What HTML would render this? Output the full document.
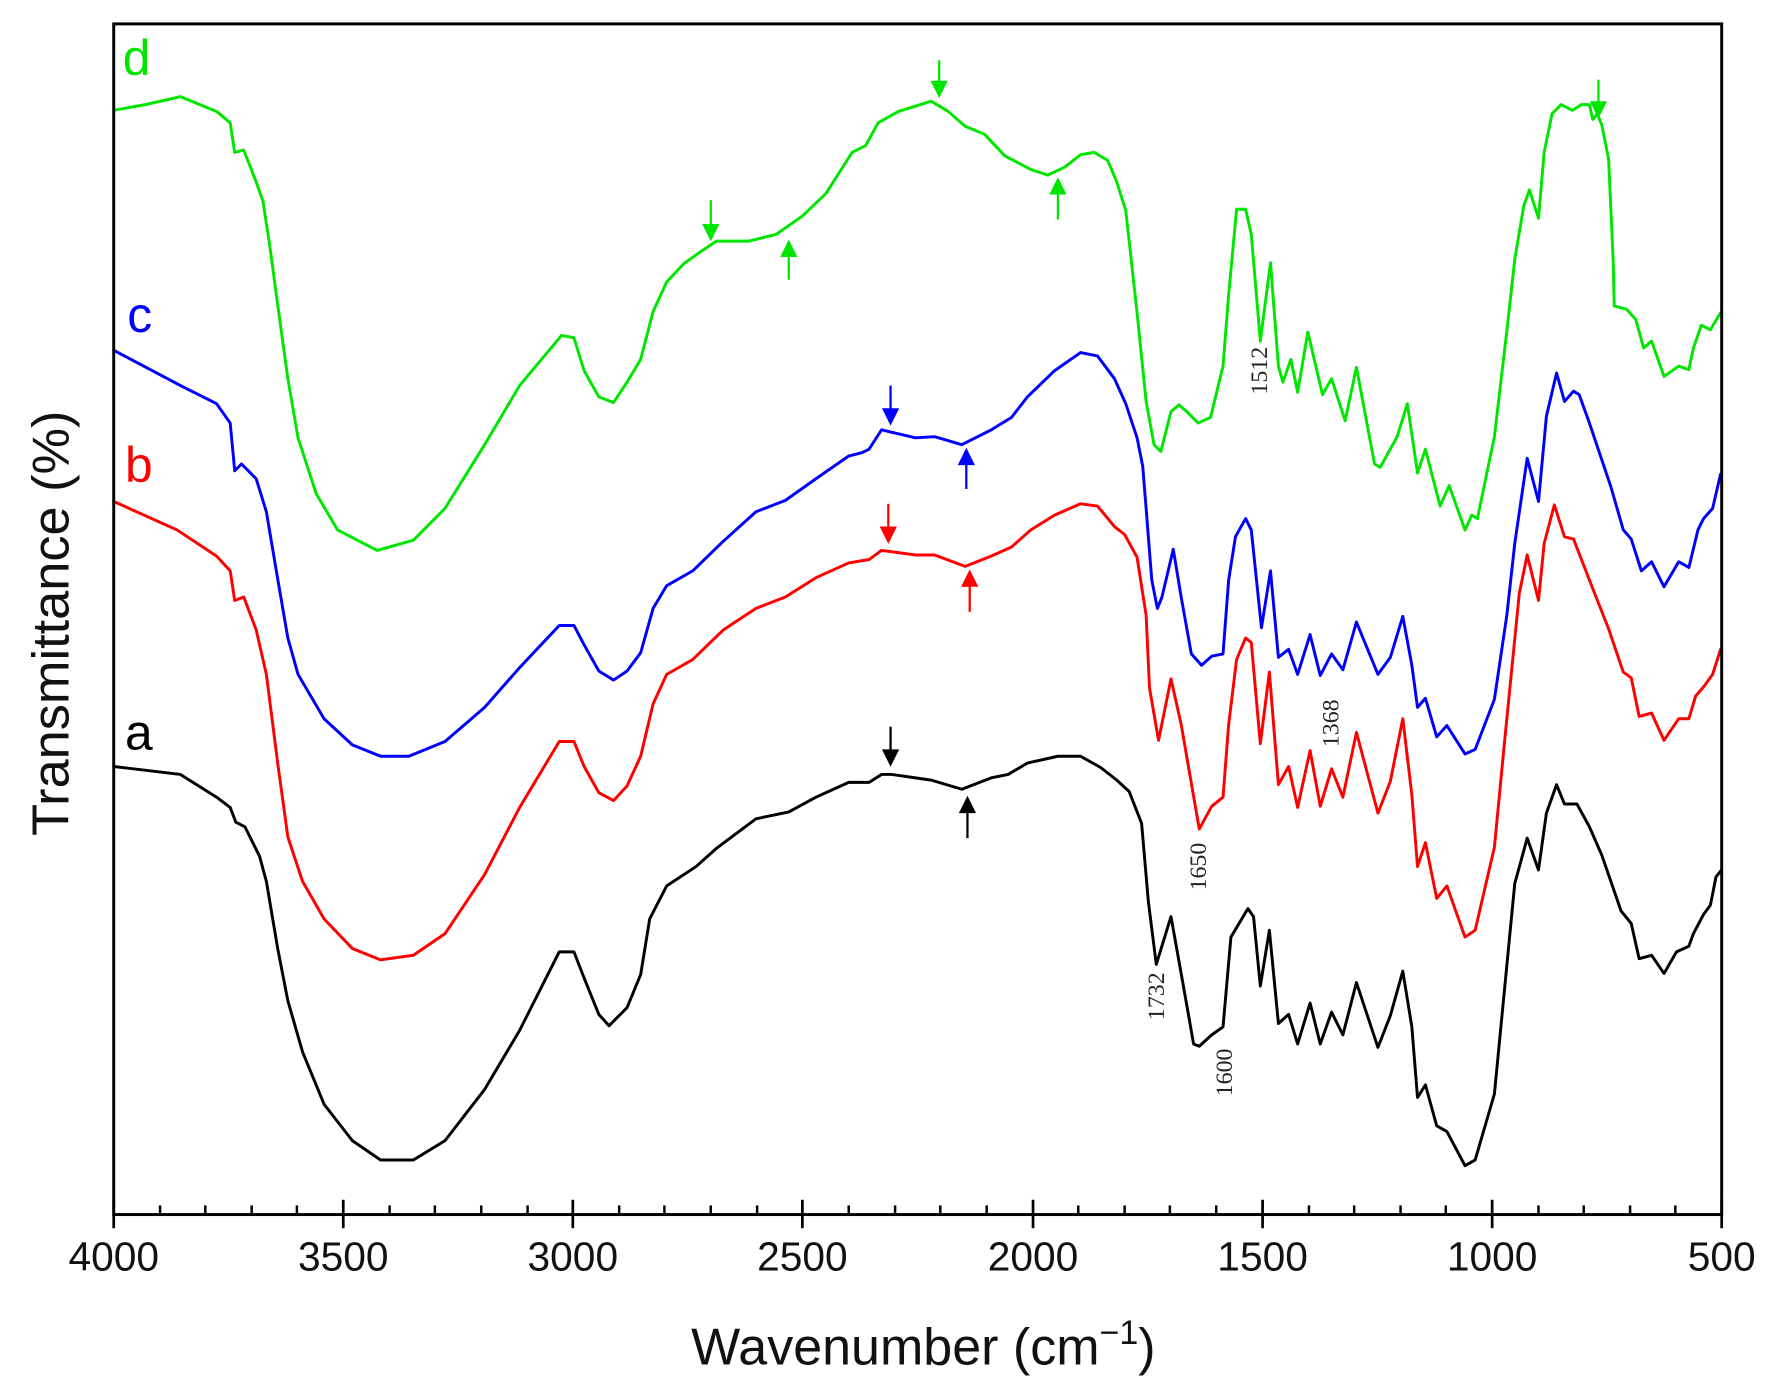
<!DOCTYPE html>
<html><head><meta charset="utf-8"><style>
html,body{margin:0;padding:0;background:#fff;}
svg{display:block;}
</style></head><body>
<svg width="1774" height="1384" viewBox="0 0 1560 1217" preserveAspectRatio="none" xmlns="http://www.w3.org/2000/svg">
<rect width="1560" height="1217" fill="#fff"/>
<g transform="matrix(0.99437 0 0 1 0.563 0)">
<g fill="none" stroke-width="2.6" stroke-linejoin="round" stroke-linecap="round">
<polyline stroke="#000" points="100,674 159,681 191,701 203,710 208,723 216,727 229,753 235,775 245,834 254,880 267,925 286,971 311,1003 336,1020 365,1020 393,1003 428,958 459,906 494,837 507,837 516,860 529,892 538,902 554,886 566,857 574,808 589,779 615,762 633,746 668,720 697,714 721,701 750,688 768,688 779,681 788,681 823,686 850,694 876,684 891,681 908,671 935,665 955,665 973,675 987,686 998,696 1009,724 1015,793 1022,848 1035,806 1044,856 1055,918 1060,920 1071,910 1081,903 1088,824 1103,799 1108,806 1114,867 1122,818 1130,900 1139,892 1147,918 1158,882 1167,918 1177,890 1187,910 1199,864 1218,921 1229,893 1240,854 1248,903 1253,965 1260,954 1270,990 1279,995 1295,1025 1304,1020 1321,962 1339,777 1350,737 1360,765 1367,715 1376,690 1383,707 1394,707 1405,727 1416,752 1433,801 1442,812 1449,843 1460,840 1471,856 1482,837 1493,832 1497,821 1506,804 1512,796 1517,771 1521,766"/>
<polyline stroke="#ff0000" points="100,441 156,466 191,489 203,502 207,528 215,525 226,554 235,593 245,671 254,736 267,775 286,808 311,834 336,844 365,840 393,821 428,769 459,710 494,652 507,652 516,674 529,697 542,704 554,691 566,665 577,619 589,593 612,580 639,554 668,535 694,525 721,508 750,495 768,492 779,484 809,488 826,488 853,498 876,489 894,481 911,466 932,453 955,443 970,445 985,463 994,470 1005,490 1013,541 1016,605 1024,651 1035,597 1044,637 1060,729 1071,709 1081,701 1086,637 1093,580 1101,561 1106,565 1114,654 1122,591 1130,690 1139,674 1147,710 1158,660 1167,709 1177,676 1187,701 1199,644 1218,715 1229,687 1240,632 1248,699 1253,762 1260,741 1270,790 1279,779 1295,824 1304,818 1321,745 1330,652 1343,522 1350,488 1360,528 1365,478 1374,444 1383,472 1391,474 1405,510 1422,553 1435,591 1442,596 1449,630 1460,627 1471,651 1484,632 1493,632 1499,612 1506,604 1514,593 1521,571"/>
<polyline stroke="#0000ff" points="100,308 159,339 191,355 203,372 207,414 213,408 226,421 235,450 245,509 254,561 263,593 286,632 311,655 336,665 361,665 393,652 428,622 459,587 494,550 507,550 516,567 529,590 542,598 554,590 566,574 577,535 589,515 612,502 639,476 668,450 694,440 721,421 750,401 762,398 768,395 779,378 809,385 826,384 850,391 876,378 894,367 908,349 932,326 955,310 970,313 985,333 995,355 1005,385 1010,410 1013,447 1018,510 1023,535 1027,525 1037,483 1044,525 1053,575 1062,585 1071,577 1081,575 1086,510 1092,472 1101,456 1106,466 1115,552 1123,502 1130,578 1139,571 1147,593 1158,558 1167,594 1177,575 1187,589 1199,547 1218,593 1229,578 1240,542 1248,585 1253,622 1260,614 1270,648 1279,638 1295,663 1304,659 1321,615 1332,541 1339,478 1350,403 1360,441 1367,366 1376,328 1383,353 1391,344 1396,347 1405,372 1424,428 1435,466 1442,474 1451,502 1460,494 1471,516 1484,494 1493,499 1501,466 1506,456 1514,447 1521,417"/>
<polyline stroke="#00e600" points="100,97 128,92 159,85 191,98 203,108 207,134 215,132 226,160 232,177 238,216 245,268 254,333 263,385 279,434 298,466 333,484 365,475 393,447 428,391 459,339 496,295 507,297 516,326 529,349 542,354 554,336 566,316 577,274 589,248 604,232 618,222 633,212 662,212 686,206 709,190 730,170 753,134 765,128 776,108 794,98 823,89 838,98 853,111 870,118 888,137 911,149 926,154 941,147 955,136 967,134 979,141 987,160 995,185 1005,275 1013,353 1020,391 1026,397 1035,362 1042,356 1049,362 1059,372 1070,367 1081,322 1086,259 1093,184 1101,184 1106,206 1114,300 1123,231 1130,322 1134,336 1141,316 1147,345 1156,292 1169,347 1177,333 1189,370 1199,323 1215,408 1220,411 1235,384 1244,355 1253,416 1260,395 1273,445 1281,427 1295,466 1301,453 1306,456 1321,384 1332,291 1339,228 1347,181 1352,167 1360,192 1365,134 1372,100 1380,92 1390,97 1398,92 1405,92 1408,105 1412,100 1416,110 1422,140 1426,228 1427,269 1438,272 1446,281 1453,306 1460,300 1471,331 1484,322 1493,325 1497,306 1504,286 1512,290 1521,275"/>
</g>
<g stroke-width="2">
<g stroke="#00e600" fill="#00e600">
<line x1="628" y1="176" x2="628" y2="205"/><polygon points="622,198 634,198 628,210"/>
<line x1="697" y1="218" x2="697" y2="246"/><polygon points="691,225 703,225 697,213"/>
<line x1="830" y1="53" x2="830" y2="78"/><polygon points="824,72 836,72 830,84"/>
<line x1="935" y1="163" x2="935" y2="193"/><polygon points="929,170 941,170 935,158"/>
<line x1="1413" y1="70" x2="1413" y2="96"/><polygon points="1407,90 1419,90 1413,102"/>
</g>
<g stroke="#0000ff" fill="#0000ff">
<line x1="787" y1="339" x2="787" y2="366"/><polygon points="781,360 793,360 787,372"/>
<line x1="854" y1="401" x2="854" y2="430"/><polygon points="848,408 860,408 854,396"/>
</g>
<g stroke="#ff0000" fill="#ff0000">
<line x1="785" y1="443" x2="785" y2="470"/><polygon points="779,464 791,464 785,476"/>
<line x1="857" y1="508" x2="857" y2="538"/><polygon points="851,515 863,515 857,503"/>
</g>
<g stroke="#000" fill="#000">
<line x1="787" y1="639" x2="787" y2="666"/><polygon points="781,660 793,660 787,672"/>
<line x1="855" y1="707" x2="855" y2="737"/><polygon points="849,714 861,714 855,702"/>
</g>
</g>
<g font-family="Liberation Serif, serif" font-size="21" fill="#222" text-anchor="middle">
<text transform="translate(1120,326) rotate(-90)">1512</text>
<text transform="translate(1183,636) rotate(-90)">1368</text>
<text transform="translate(1066,762) rotate(-90)">1650</text>
<text transform="translate(1029,876) rotate(-90)">1732</text>
<text transform="translate(1089,943) rotate(-90)">1600</text>
</g>
<g font-family="Liberation Sans, sans-serif" font-size="44">
<text x="108" y="66" fill="#00e600">d</text>
<text x="112" y="292" fill="#0000ff">c</text>
<text x="110" y="424" fill="#ff0000">b</text>
<text x="110" y="659" fill="#000">a</text>
</g>
<rect x="100" y="21" width="1422" height="1047" fill="none" stroke="#000" stroke-width="2.6"/>
<g stroke="#000" stroke-width="2.4">
<line x1="100" y1="1055" x2="100" y2="1080"/><line x1="303" y1="1055" x2="303" y2="1080"/><line x1="506" y1="1055" x2="506" y2="1080"/><line x1="709" y1="1055" x2="709" y2="1080"/><line x1="913" y1="1055" x2="913" y2="1080"/><line x1="1116" y1="1055" x2="1116" y2="1080"/><line x1="1319" y1="1055" x2="1319" y2="1080"/><line x1="1522" y1="1055" x2="1522" y2="1080"/>
</g>
<g stroke="#000" stroke-width="2.2">
<line x1="141" y1="1060" x2="141" y2="1068"/><line x1="181" y1="1060" x2="181" y2="1068"/><line x1="222" y1="1060" x2="222" y2="1068"/><line x1="262" y1="1060" x2="262" y2="1068"/>
<line x1="344" y1="1060" x2="344" y2="1068"/><line x1="384" y1="1060" x2="384" y2="1068"/><line x1="425" y1="1060" x2="425" y2="1068"/><line x1="466" y1="1060" x2="466" y2="1068"/>
<line x1="547" y1="1060" x2="547" y2="1068"/><line x1="587" y1="1060" x2="587" y2="1068"/><line x1="628" y1="1060" x2="628" y2="1068"/><line x1="669" y1="1060" x2="669" y2="1068"/>
<line x1="750" y1="1060" x2="750" y2="1068"/><line x1="791" y1="1060" x2="791" y2="1068"/><line x1="831" y1="1060" x2="831" y2="1068"/><line x1="872" y1="1060" x2="872" y2="1068"/>
<line x1="953" y1="1060" x2="953" y2="1068"/><line x1="994" y1="1060" x2="994" y2="1068"/><line x1="1034" y1="1060" x2="1034" y2="1068"/><line x1="1075" y1="1060" x2="1075" y2="1068"/>
<line x1="1157" y1="1060" x2="1157" y2="1068"/><line x1="1197" y1="1060" x2="1197" y2="1068"/><line x1="1238" y1="1060" x2="1238" y2="1068"/><line x1="1278" y1="1060" x2="1278" y2="1068"/>
<line x1="1360" y1="1060" x2="1360" y2="1068"/><line x1="1400" y1="1060" x2="1400" y2="1068"/><line x1="1441" y1="1060" x2="1441" y2="1068"/><line x1="1481" y1="1060" x2="1481" y2="1068"/>
</g>
<g font-family="Liberation Sans, sans-serif" font-size="36" fill="#111" text-anchor="middle">
<text x="100" y="1117">4000</text><text x="303" y="1117">3500</text><text x="506" y="1117">3000</text><text x="709" y="1117">2500</text><text x="913" y="1117">2000</text><text x="1116" y="1117">1500</text><text x="1319" y="1117">1000</text><text x="1522" y="1117">500</text>
</g>
<text x="816" y="1200" font-family="Liberation Sans, sans-serif" font-size="46" fill="#111" text-anchor="middle">Wavenumber (cm<tspan font-size="30" dy="-18">−1</tspan><tspan dy="18">)</tspan></text>
<text transform="translate(60,548) rotate(-90)" font-family="Liberation Sans, sans-serif" font-size="46" fill="#111" text-anchor="middle">Transmittance (%)</text>
</g>
</svg>
</body></html>
